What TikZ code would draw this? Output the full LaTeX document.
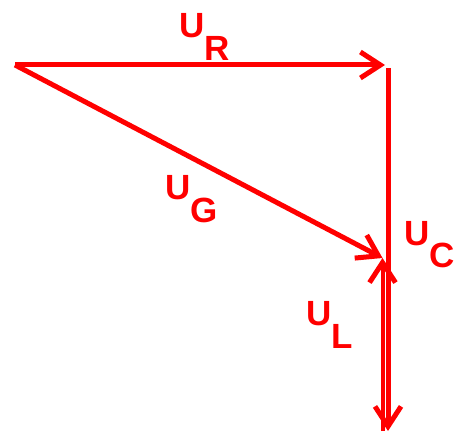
\documentclass[tikz,border=0pt]{standalone}
\usepackage{fontspec}
\setmainfont{Liberation Sans}
\usetikzlibrary{arrows.meta, positioning}

\newcommand{\phasorname}[1]{U\kern0pt\raisebox{-23pt}{#1}}

\begin{document}
\begin{tikzpicture}[x=1pt, y=-1pt,
        vec/.style={draw=red, line width=5pt, -{Straight Barb[length=20pt, width=26pt, line width=5pt]}},
        lbl/.style={red, inner sep=0pt, anchor=base west, font=\fontsize{35}{35}\selectfont\bfseries}]
    \useasboundingbox (0,0) rectangle (461,433);
    % corner points of the diagram
    \coordinate (O) at (15,65);
    \coordinate (A) at (385,65);
    \coordinate (Atop) at (388,68);
    \coordinate (Lend) at (388,431);
    \coordinate (Cstart) at (382.5,431);
    \coordinate (C) at (382.5,258);
    % phasors
    \draw[vec] (O) -- (A);
    \draw[vec] (Atop) -- (Lend);
    \draw[vec, line width=4pt] (Cstart) -- (C);
    \draw[vec] (O) -- (C);
    % labels
    \node[lbl] (uR) at (179,38) {\phasorname{R}};
    \node[lbl] (uG) at (165,200) {\phasorname{G}};
    \node[lbl] (uC) at (404,245) {\phasorname{C}};
    \node[lbl] (uL) at (306,325) {\phasorname{L}};
\end{tikzpicture}
\end{document}
